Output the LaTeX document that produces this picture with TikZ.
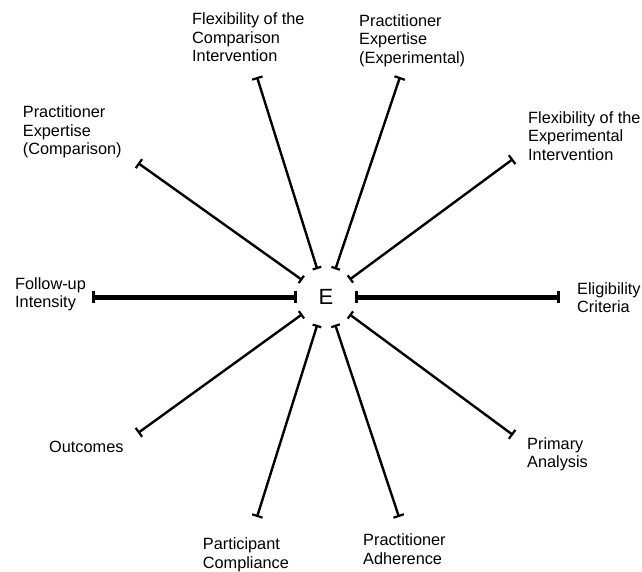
\documentclass[tikz,border=0pt]{standalone}
\usepackage{fontspec}
\setmainfont{Liberation Sans}
\usetikzlibrary{arrows.meta}

\tikzset{
  lbl/.style={anchor=base west, align=left, inner sep=0pt, font=\fontsize{16.3}{18.5}\selectfont},
  spoke/.style={line width=2.4pt, {Bar[width=11pt,line width=2.2pt]}-{Bar[width=9pt,line width=2.2pt]}},
  heavyspoke/.style={line width=5pt, {Bar[width=12pt,line width=2.8pt]}-{Bar[width=12pt,line width=2.8pt]}},
}

\begin{document}
\begin{tikzpicture}[x=1pt, y=-1pt]
	  \useasboundingbox (0,0) rectangle (642,571);

	  \node [ circle, minimum size=58pt, inner sep=0pt, font=\fontsize{22}{22}\selectfont ] (e) at (326,297) {E};

	  % labels, placed at the baseline of their last line
	  \node [ lbl ] (flexcomp) at (192,61.5) {Flexibility of the\\Comparison\\Intervention};
	  \node [ lbl ] (expexp) at (359,63) {Practitioner\\Expertise\\(Experimental)};
	  \node [ lbl ] (flexexp) at (528,160) {Flexibility of the\\Experimental\\Intervention};
	  \node [ lbl ] (expcomp) at (22.7,154.7) {Practitioner\\Expertise\\(Comparison)};
	  \node [ lbl ] (elig) at (577,312.5) {Eligibility\\Criteria};
	  \node [ lbl ] (follow) at (15,307.5) {Follow-up\\Intensity};
	  \node [ lbl ] (analysis) at (527,467.5) {Primary\\Analysis};
	  \node [ lbl ] (outc) at (49,452) {Outcomes};
	  \node [ lbl ] (compl) at (202.7,568) {Participant\\Compliance};
	  \node [ lbl ] (adher) at (363,564) {Practitioner\\Adherence};

	  \coordinate (flexcompEnd) at (257,77);
	  \coordinate (expexpEnd) at (400,77);
	  \coordinate (flexexpEnd) at (513,159);
	  \coordinate (expcompEnd) at (138,163);
	  \coordinate (eligEnd) at (560,297);
	  \coordinate (followEnd) at (92,297);
	  \coordinate (analysisEnd) at (513,435);
	  \coordinate (outcEnd) at (138,433);
	  \coordinate (complEnd) at (257,517);
	  \coordinate (adherEnd) at (399,517);

	  \draw [ spoke ] (flexcompEnd) -- (e);
	  \draw [ spoke ] (expexpEnd) -- (e);
	  \draw [ spoke ] (flexexpEnd) -- (e);
	  \draw [ spoke ] (expcompEnd) -- (e);
	  \draw [ spoke ] (analysisEnd) -- (e);
	  \draw [ spoke ] (outcEnd) -- (e);
	  \draw [ spoke ] (complEnd) -- (e);
	  \draw [ spoke ] (adherEnd) -- (e);

	  \draw [ heavyspoke ] (eligEnd) -- (e);
	  \draw [ heavyspoke ] (followEnd) -- (e);
	\end{tikzpicture}
\end{document}
